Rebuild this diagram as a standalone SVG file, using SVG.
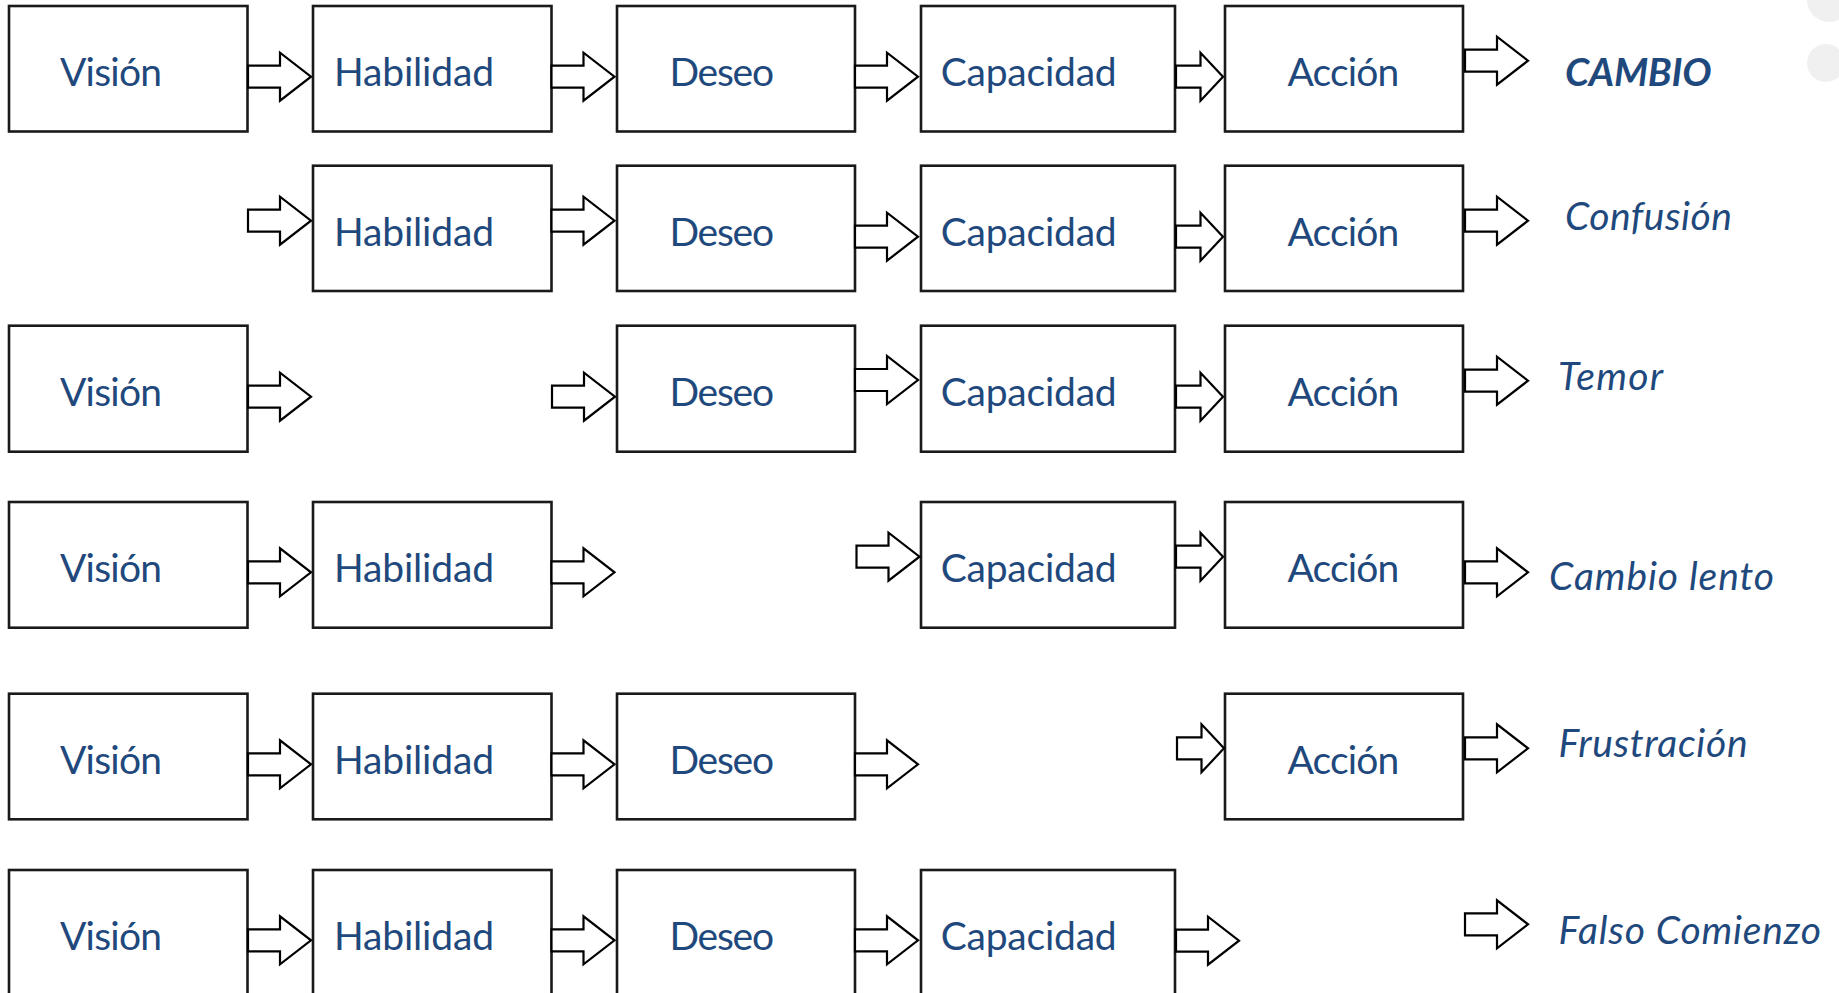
<svg xmlns="http://www.w3.org/2000/svg" xmlns:xlink="http://www.w3.org/1999/xlink" width="1839" height="993" viewBox="0 0 1839 993">
<style>
.box{fill:#ffffff;stroke:#1a1a1a;stroke-width:2.6}
.lbl{font-family:Lato,"Open Sans","Liberation Sans",sans-serif;font-size:39px;fill:#1F497D}
.out{font-family:Lato,"Open Sans","Liberation Sans",sans-serif;font-size:39px;fill:#1F497D;font-style:italic}
.arr{fill:#ffffff;stroke:#000000;stroke-width:2.2;stroke-linejoin:miter}
.blob{fill:#f0f0f0}
</style>
<defs>
<path id="af" d="M0,-11 H32 V-24 L63,0 L32,24 V11 H0 Z"/>
<path id="an" d="M0,-11 H24.5 V-24 L47,0 L24.5,24 V11 H0 Z"/>
</defs>
<rect width="1839" height="993" fill="#ffffff"/>
<circle class="blob" cx="1829" cy="0" r="22"/>
<circle class="blob" cx="1826" cy="63" r="19"/>

<!-- Row 1 -->
<g id="r1-vision"><rect class="box" x="9" y="6" width="238.5" height="125.5"/><text class="lbl" x="60" y="86.3" textLength="102">Visión</text></g>
<g id="r1-habilidad"><rect class="box" x="313" y="6" width="238.5" height="125.5"/><text class="lbl" x="334" y="86.3" textLength="160">Habilidad</text></g>
<g id="r1-deseo"><rect class="box" x="617" y="6" width="238" height="125.5"/><text class="lbl" x="669.5" y="86.3" textLength="104.5">Deseo</text></g>
<g id="r1-capacidad"><rect class="box" x="921" y="6" width="254" height="125.5"/><text class="lbl" x="940.7" y="86.3" textLength="176">Capacidad</text></g>
<g id="r1-accion"><rect class="box" x="1225" y="6" width="238" height="125.5"/><text class="lbl" x="1287.6" y="86.3" textLength="111.6">Acción</text></g>
<g id="r1-out"><text class="out" x="1565" y="86" font-weight="bold" textLength="146.5">CAMBIO</text></g>

<!-- Row 2 -->
<g id="r2-habilidad"><rect class="box" x="313" y="165.7" width="238.5" height="125.3"/><text class="lbl" x="334" y="246" textLength="160">Habilidad</text></g>
<g id="r2-deseo"><rect class="box" x="617" y="165.7" width="238" height="125.3"/><text class="lbl" x="669.5" y="246" textLength="104.5">Deseo</text></g>
<g id="r2-capacidad"><rect class="box" x="921" y="165.7" width="254" height="125.3"/><text class="lbl" x="940.7" y="246" textLength="176">Capacidad</text></g>
<g id="r2-accion"><rect class="box" x="1225" y="165.7" width="238" height="125.3"/><text class="lbl" x="1287.6" y="246" textLength="111.6">Acción</text></g>
<g id="r2-out"><text class="out" x="1565" y="230" textLength="167">Confusión</text></g>

<!-- Row 3 -->
<g id="r3-vision"><rect class="box" x="9" y="325.7" width="238.5" height="126"/><text class="lbl" x="60" y="406" textLength="102">Visión</text></g>
<g id="r3-deseo"><rect class="box" x="617" y="325.7" width="238" height="126"/><text class="lbl" x="669.5" y="406" textLength="104.5">Deseo</text></g>
<g id="r3-capacidad"><rect class="box" x="921" y="325.7" width="254" height="126"/><text class="lbl" x="940.7" y="406" textLength="176">Capacidad</text></g>
<g id="r3-accion"><rect class="box" x="1225" y="325.7" width="238" height="126"/><text class="lbl" x="1287.6" y="406" textLength="111.6">Acción</text></g>
<g id="r3-out"><text class="out" x="1558" y="390" textLength="105">Temor</text></g>

<!-- Row 4 -->
<g id="r4-vision"><rect class="box" x="9" y="502" width="238.5" height="125.7"/><text class="lbl" x="60" y="582.3" textLength="102">Visión</text></g>
<g id="r4-habilidad"><rect class="box" x="313" y="502" width="238.5" height="125.7"/><text class="lbl" x="334" y="582.3" textLength="160">Habilidad</text></g>
<g id="r4-capacidad"><rect class="box" x="921" y="502" width="254" height="125.7"/><text class="lbl" x="940.7" y="582.3" textLength="176">Capacidad</text></g>
<g id="r4-accion"><rect class="box" x="1225" y="502" width="238" height="125.7"/><text class="lbl" x="1287.6" y="582.3" textLength="111.6">Acción</text></g>
<g id="r4-out"><text class="out" x="1549" y="590" textLength="225">Cambio lento</text></g>

<!-- Row 5 -->
<g id="r5-vision"><rect class="box" x="9" y="693.7" width="238.5" height="125.6"/><text class="lbl" x="60" y="774" textLength="102">Visión</text></g>
<g id="r5-habilidad"><rect class="box" x="313" y="693.7" width="238.5" height="125.6"/><text class="lbl" x="334" y="774" textLength="160">Habilidad</text></g>
<g id="r5-deseo"><rect class="box" x="617" y="693.7" width="238" height="125.6"/><text class="lbl" x="669.5" y="774" textLength="104.5">Deseo</text></g>
<g id="r5-accion"><rect class="box" x="1225" y="693.7" width="238" height="125.6"/><text class="lbl" x="1287.6" y="774" textLength="111.6">Acción</text></g>
<g id="r5-out"><text class="out" x="1558.6" y="757" textLength="189">Frustración</text></g>

<!-- Row 6 -->
<g id="r6-vision"><rect class="box" x="9" y="870" width="238.5" height="126"/><text class="lbl" x="60" y="950.3" textLength="102">Visión</text></g>
<g id="r6-habilidad"><rect class="box" x="313" y="870" width="238.5" height="126"/><text class="lbl" x="334" y="950.3" textLength="160">Habilidad</text></g>
<g id="r6-deseo"><rect class="box" x="617" y="870" width="238" height="126"/><text class="lbl" x="669.5" y="950.3" textLength="104.5">Deseo</text></g>
<g id="r6-capacidad"><rect class="box" x="921" y="870" width="254" height="126"/><text class="lbl" x="940.7" y="950.3" textLength="176">Capacidad</text></g>
<g id="r6-out"><text class="out" x="1558.6" y="944" textLength="262.5">Falso Comienzo</text></g>

<g id="connectors">
<!-- Row 1 -->
<use href="#af" class="arr" x="248" y="76.7"/>
<use href="#af" class="arr" x="551.5" y="76.7"/>
<use href="#af" class="arr" x="855" y="76.7"/>
<use href="#an" class="arr" x="1176" y="76.7"/>
<use href="#af" class="arr" x="1465" y="60.7"/>
<!-- Row 2 -->
<use href="#af" class="arr" x="248" y="220.7"/>
<use href="#af" class="arr" x="551.5" y="220.7"/>
<use href="#af" class="arr" x="855" y="236.7"/>
<use href="#an" class="arr" x="1176" y="236.7"/>
<use href="#af" class="arr" x="1465" y="220.7"/>
<!-- Row 3 -->
<use href="#af" class="arr" x="248" y="396.7"/>
<use href="#af" class="arr" x="552" y="396.7"/>
<use href="#af" class="arr" x="855" y="380"/>
<use href="#an" class="arr" x="1176" y="396.7"/>
<use href="#af" class="arr" x="1465" y="380.7"/>
<!-- Row 4 -->
<use href="#af" class="arr" x="248" y="572.3"/>
<use href="#af" class="arr" x="551.5" y="572.3"/>
<use href="#af" class="arr" x="856.5" y="556.7"/>
<use href="#an" class="arr" x="1176" y="556.7"/>
<use href="#af" class="arr" x="1465" y="572.3"/>
<!-- Row 5 -->
<use href="#af" class="arr" x="248" y="764.3"/>
<use href="#af" class="arr" x="551.5" y="764.3"/>
<use href="#af" class="arr" x="855" y="764.3"/>
<use href="#an" class="arr" x="1177" y="748.3"/>
<use href="#af" class="arr" x="1465" y="748.3"/>
<!-- Row 6 -->
<use href="#af" class="arr" x="248" y="940.3"/>
<use href="#af" class="arr" x="551.5" y="940.3"/>
<use href="#af" class="arr" x="855" y="940.3"/>
<use href="#af" class="arr" x="1176" y="940.7"/>
<use href="#af" class="arr" x="1465" y="924.3"/>
</g>
</svg>
